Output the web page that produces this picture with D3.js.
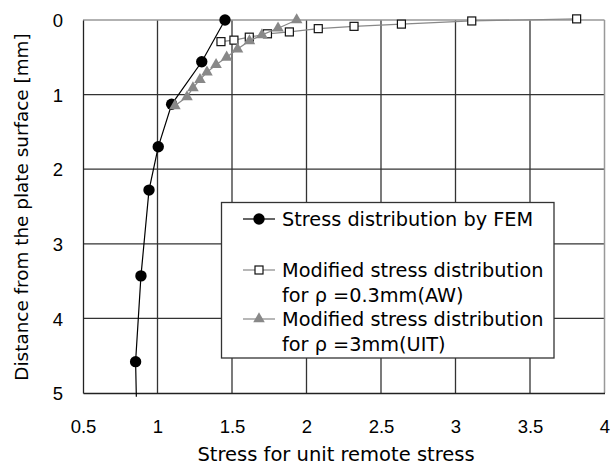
<!DOCTYPE html>
<html><head><meta charset="utf-8">
<script src="https://cdn.jsdelivr.net/npm/d3@7"></script>
<style>body{margin:0;background:#fff}svg{display:block}text{font-family:"DejaVu Sans",sans-serif;fill:#000}</style>
</head><body><svg id="c" width="611" height="466"></svg>
<script>
// Data (x = stress for unit remote stress, y = distance from surface [mm])
const femX = [1.453, 1.297, 1.095, 1.005, 0.943, 0.889, 0.853];
const femY = [0.0, 0.56, 1.13, 1.70, 2.28, 3.43, 4.58];
const femTailX = [0.858];
const femTailY = [5.05];
const awX = [1.426, 1.513, 1.616, 1.738, 1.885, 2.079, 2.319, 2.637, 3.109, 3.813];
const awY = [0.29, 0.27, 0.23, 0.185, 0.16, 0.116, 0.085, 0.055, 0.013, -0.015];
const uitX = [1.117, 1.198, 1.238, 1.285, 1.332, 1.393, 1.464, 1.537, 1.617, 1.701, 1.809, 1.934];
const uitY = [1.15, 1.03, 0.91, 0.80, 0.70, 0.60, 0.50, 0.39, 0.28, 0.20, 0.11, 0.0];
const xTicks = [0.5, 1, 1.5, 2, 2.5, 3, 3.5, 4];
const yTicks = [0, 1, 2, 3, 4, 5];
const legendLabels = [["Stress distribution by FEM"], ["Modified stress distribution", "for ρ =0.3mm(AW)"], ["Modified stress distribution", "for ρ =3mm(UIT)"]];
const xTitle = "Stress for unit remote stress";
const yTitle = "Distance from the plate surface [mm]";

const svg = d3.select("#c");
const L = 83, R = 604.5, T = 20, B = 393;
const x = d3.scaleLinear().domain([0.5, 4]).range([L, R]);
const y = d3.scaleLinear().domain([0, 5]).range([T, B]);
const tickFont = '"Liberation Sans",Arial,sans-serif';

// grid
const g = svg.append("g");
g.selectAll(".vx").data(xTicks.slice(1, -1)).join("line")
  .attr("x1", d => x(d)).attr("x2", d => x(d)).attr("y1", T).attr("y2", B)
  .attr("stroke", "#333").attr("stroke-width", 1.3);
g.selectAll(".hy").data(yTicks.slice(1, -1)).join("line")
  .attr("x1", L).attr("x2", R).attr("y1", d => y(d)).attr("y2", d => y(d))
  .attr("stroke", "#333").attr("stroke-width", 1.3);
// frame
svg.append("line").attr("x1", L).attr("x2", R).attr("y1", T).attr("y2", T).attr("stroke", "#999").attr("stroke-width", 1.5);
svg.append("line").attr("x1", R).attr("x2", R).attr("y1", T).attr("y2", B).attr("stroke", "#999").attr("stroke-width", 1.5);

// axes
const xAxis = d3.axisBottom(x).tickValues(xTicks).tickSize(0).tickPadding(0).tickFormat(d3.format("~g"));
const xa = svg.append("g").attr("transform", `translate(0,${B})`).call(xAxis);
xa.select(".domain").attr("stroke", "#222").attr("stroke-width", 1.3);
xa.selectAll("text").attr("font-size", 18.5).attr("dy", null).attr("y", 40)
  .style("font-family", tickFont).attr("fill", "#000");
const yAxis = d3.axisLeft(y).tickValues(yTicks).tickSize(0).tickPadding(20).tickFormat(d3.format("d"));
const ya = svg.append("g").attr("transform", `translate(${L},0)`).call(yAxis);
ya.select(".domain").attr("stroke", "#222").attr("stroke-width", 1.3);
ya.selectAll("text").attr("font-size", 18.5).attr("dy", "0.36em")
  .style("font-family", tickFont).attr("fill", "#000");

svg.append("text").attr("x", 336).attr("y", 461).attr("text-anchor", "middle").attr("font-size", 19.5).text(xTitle);
svg.append("text").attr("transform", `translate(28,207) rotate(-90)`).attr("text-anchor", "middle").attr("font-size", 18.4).text(yTitle);

const line = d3.line().x(d => x(d[0])).y(d => y(d[1]));
const fem = femX.map((v, i) => [v, femY[i]]);
const femLine = fem.concat(femTailX.map((v, i) => [v, femTailY[i]]));
const aw = awX.map((v, i) => [v, awY[i]]);
const uit = uitX.map((v, i) => [v, uitY[i]]);
const tri = d3.symbol().type(d3.symbolTriangle).size(58);

function drawCircle(sel, cx, cy) { sel.append("circle").attr("cx", cx).attr("cy", cy).attr("r", 5.7).attr("fill", "#000"); }
function drawSquare(sel, cx, cy) { sel.append("rect").attr("x", cx - 4).attr("y", cy - 4).attr("width", 8).attr("height", 8).attr("fill", "#fff").attr("stroke", "#111").attr("stroke-width", 1.2); }
function drawTri(sel, cx, cy) { sel.append("path").attr("d", tri()).attr("transform", `translate(${cx},${cy})`).attr("fill", "#888"); }

// FEM series
svg.append("path").attr("d", line(femLine)).attr("fill", "none").attr("stroke", "#000").attr("stroke-width", 1.2);
const fg = svg.append("g");
fem.forEach(d => drawCircle(fg, x(d[0]), y(d[1])));
// AW series
svg.append("path").attr("d", line(aw)).attr("fill", "none").attr("stroke", "#888").attr("stroke-width", 1.2);
const ag = svg.append("g");
aw.forEach(d => drawSquare(ag, x(d[0]), y(d[1])));
// UIT series
svg.append("path").attr("d", line(uit)).attr("fill", "none").attr("stroke", "#888").attr("stroke-width", 1.2);
const ug = svg.append("g");
uit.forEach(d => drawTri(ug, x(d[0]), y(d[1])));

// legend
const lg = svg.append("g");
lg.append("rect").attr("x", 221.5).attr("y", 202.5).attr("width", 332.5).attr("height", 155.5).attr("fill", "#fff").attr("stroke", "#333").attr("stroke-width", 1.3);
const rowsY = [219, 270, 319];
const colors = ["#000", "#888", "#888"];
const drawers = [drawCircle, drawSquare, drawTri];
legendLabels.forEach((lines, i) => {
  lg.append("line").attr("x1", 243).attr("x2", 275).attr("y1", rowsY[i]).attr("y2", rowsY[i]).attr("stroke", colors[i]).attr("stroke-width", 1.2);
  drawers[i](lg, 259, rowsY[i]);
  lines.forEach((t, j) => {
    lg.append("text").attr("x", 282).attr("y", rowsY[i] + j * 25.5).attr("dy", "0.36em").attr("font-size", 19.3).text(t);
  });
});
</script></body></html>
